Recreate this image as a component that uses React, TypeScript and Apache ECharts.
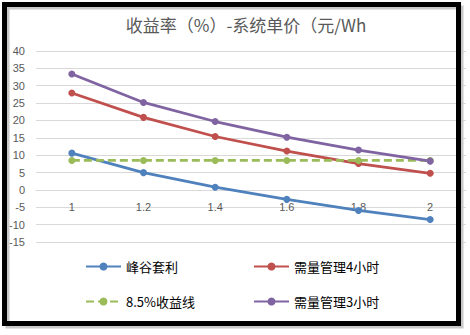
import React, { useEffect, useRef } from "react";
import * as echarts from "echarts";

const categories = ["1", "1.2", "1.4", "1.6", "1.8", "2"];
const fengGu = [10.6, 5.0, 0.8, -2.7, -5.9, -8.5];
const xuLiang4 = [27.9, 20.9, 15.4, 11.2, 7.6, 4.8];
const shouYi85 = [8.5, 8.5, 8.5, 8.5, 8.5, 8.5];
const xuLiang3 = [33.4, 25.2, 19.7, 15.2, 11.5, 8.3];
const seriesNames = ["峰谷套利", "需量管理4小时", "8.5%收益线", "需量管理3小时"];
const colors = ["#4f81bd", "#c0504d", "#9bbb59", "#8064a2"];

export default function App() {
  const ref = useRef<HTMLDivElement>(null);
  useEffect(() => {
    if (!ref.current) return;
    const chart = echarts.init(ref.current, null, { renderer: "svg" });
    const datas = [fengGu, xuLiang4, shouYi85, xuLiang3];
    const legendPos = [
      { left: 85, top: 260 },
      { left: 253, top: 260 },
      { left: 85, top: 295 },
      { left: 253, top: 295 },
    ];
    chart.setOption({
      animation: false,
      backgroundColor: "#ffffff",
      title: {
        text: "收益率（%）-系统单价（元/Wh",
        left: 241,
        textAlign: "center",
        top: 11,
        textStyle: {
          fontFamily: "Noto Sans CJK SC",
          fontSize: 17,
          fontWeight: "normal",
          color: "#595959",
        },
      },
      legend: seriesNames.map((n, i) => ({
        data: [n],
        left: legendPos[i].left,
        top: legendPos[i].top,
        padding: 0,
        itemWidth: 35,
        itemHeight: 10,
        itemGap: 5,
        textStyle: {
          fontFamily: "Noto Sans CJK SC",
          fontSize: 13,
          color: "#000000",
        },
      })),
      grid: { left: 36, top: 51, width: 430, height: 191.1 },
      xAxis: {
        type: "category",
        data: categories,
        boundaryGap: true,
        position: "bottom",
        offset: -52.1,
        axisLine: { onZero: false, lineStyle: { color: "#d9d9d9", width: 1 } },
        axisTick: { show: false },
        axisLabel: {
          margin: 11,
          fontFamily: "Liberation Sans",
          fontSize: 11,
          color: "#595959",
        },
        splitLine: { show: false },
      },
      yAxis: {
        type: "value",
        min: -15,
        max: 40,
        interval: 5,
        axisLine: { show: false },
        axisTick: { show: false },
        axisLabel: {
          margin: 11,
          fontFamily: "Liberation Sans",
          fontSize: 11,
          color: "#595959",
        },
        splitLine: { lineStyle: { color: "#d9d9d9", width: 1 } },
      },
      series: seriesNames.map((n, i) => ({
        name: n,
        type: "line",
        data: datas[i],
        symbol: "circle",
        symbolSize: 7,
        color: colors[i],
        lineStyle: {
          color: colors[i],
          width: 2.75,
          type: i === 2 ? [8, 4] : "solid",
        },
        itemStyle: { color: colors[i] },
      })),
      graphic: [
        {
          type: "rect",
          z: 100,
          shape: { x: 7.5, y: 7.5, width: 454, height: 319 },
          style: { fill: "none", stroke: "#c8c8c8", lineWidth: 4 },
        },
        {
          type: "rect",
          z: 101,
          shape: { x: 4.5, y: 4.5, width: 454, height: 319 },
          style: { fill: "none", stroke: "#000000", lineWidth: 5 },
        },
      ],
    });
    return () => chart.dispose();
  }, []);
  return (
    <div
      ref={ref}
      style={{ position: "fixed", left: 0, top: 0, width: 470, height: 335 }}
    />
  );
}
